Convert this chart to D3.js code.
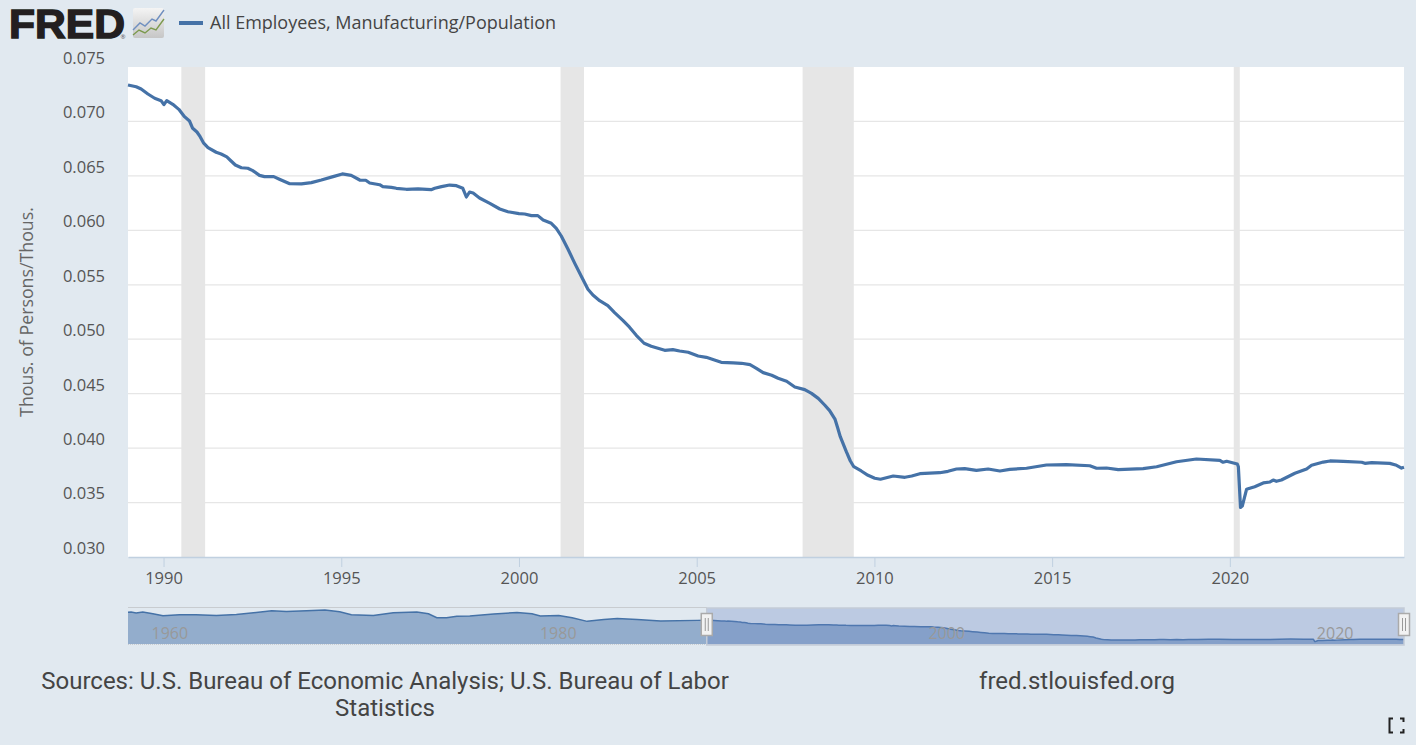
<!DOCTYPE html>
<html>
<head>
<meta charset="utf-8">
<title>All Employees, Manufacturing/Population</title>
<script src="https://cdn.jsdelivr.net/npm/d3@7"></script>
<style>
  html, body { margin: 0; padding: 0; background: #e1e9f0; overflow: hidden; }
  svg { display: block; }
  text { font-family: "Open Sans", sans-serif; }
</style>
</head>
<body>
<svg id="svg" width="1416" height="745"></svg>
<script>
// main series (decimal year / value)
var years = [1989.0,1989.23,1989.37,1989.56,1989.75,1989.93,1990.01,1990.09,1990.26,1990.43,1990.59,1990.73,1990.82,1990.94,1991.03,1991.13,1991.25,1991.48,1991.62,1991.78,1991.9,1992.02,1992.19,1992.37,1992.51,1992.7,1992.84,1993.1,1993.26,1993.55,1993.88,1994.16,1994.44,1994.77,1995.03,1995.28,1995.52,1995.69,1995.8,1996.08,1996.17,1996.41,1996.55,1996.83,1997.16,1997.53,1997.63,1997.82,1998.05,1998.24,1998.42,1998.52,1998.61,1998.71,1998.89,1999.18,1999.46,1999.69,2000.0,2000.16,2000.35,2000.53,2000.68,2000.91,2001.05,2001.19,2001.38,2001.57,2001.75,2001.94,2002.08,2002.27,2002.5,2002.69,2002.93,2003.11,2003.3,2003.52,2003.72,2004.1,2004.33,2004.52,2004.76,2005.04,2005.27,2005.5,2005.69,2006.03,2006.26,2006.5,2006.68,2006.87,2007.11,2007.29,2007.53,2007.76,2008.04,2008.23,2008.42,2008.6,2008.74,2008.89,2008.97,2009.04,2009.21,2009.32,2009.42,2009.63,2009.82,2010.01,2010.17,2010.53,2010.86,2011.05,2011.28,2011.84,2012.07,2012.31,2012.54,2012.87,2013.2,2013.53,2013.81,2014.28,2014.84,2015.4,2016.06,2016.25,2016.53,2016.86,2017.56,2017.94,2018.5,2019.06,2019.72,2019.81,2019.91,2020.21,2020.24,2020.3,2020.35,2020.47,2020.7,2020.94,2021.13,2021.22,2021.31,2021.45,2021.83,2022.16,2022.3,2022.63,2022.82,2023.19,2023.71,2023.8,2023.99,2024.5,2024.69,2024.83,2024.9];
var values = [0.07335,0.07319,0.07298,0.07252,0.07213,0.07191,0.07154,0.07191,0.07157,0.07111,0.07044,0.07004,0.06937,0.06903,0.0686,0.068,0.06759,0.06717,0.06701,0.06674,0.06637,0.066,0.06575,0.0657,0.06548,0.06505,0.06493,0.06493,0.06469,0.06428,0.06426,0.06438,0.06462,0.06493,0.06518,0.06505,0.06462,0.0646,0.06435,0.06419,0.06401,0.06395,0.06386,0.06377,0.0638,0.06373,0.06386,0.06401,0.06416,0.0641,0.06386,0.06306,0.06352,0.06343,0.06297,0.06248,0.06196,0.06171,0.06153,0.0615,0.06135,0.06135,0.06095,0.06065,0.06019,0.05948,0.05826,0.05697,0.05581,0.05459,0.05406,0.05354,0.05308,0.05244,0.0517,0.0511,0.05036,0.04963,0.04935,0.04898,0.04904,0.04892,0.0488,0.04846,0.04834,0.04809,0.04788,0.04782,0.04779,0.04766,0.04733,0.04693,0.04669,0.04641,0.04614,0.04561,0.04537,0.04503,0.04457,0.04396,0.04344,0.04267,0.04182,0.04105,0.03967,0.03884,0.03829,0.0379,0.0375,0.03723,0.03714,0.03744,0.03732,0.03744,0.03765,0.03774,0.03787,0.03808,0.03811,0.03796,0.03808,0.0379,0.03805,0.03815,0.03845,0.03848,0.03838,0.03815,0.03817,0.03802,0.03811,0.03829,0.03875,0.039,0.03888,0.0387,0.03879,0.03854,0.03829,0.03456,0.03468,0.03622,0.03646,0.0368,0.03689,0.03707,0.03695,0.03707,0.03769,0.03808,0.03842,0.03872,0.03882,0.03879,0.0387,0.0386,0.03866,0.0386,0.03842,0.03817,0.03824];

// navigator series before the zoomed range
var navYears = [1959.2,1959.36,1959.62,1959.96,1960.48,1961.0,1961.85,1962.7,1963.75,1964.78,1965.8,1966.6,1967.36,1968.4,1969.34,1970.1,1970.7,1971.83,1972.86,1974.07,1974.67,1975.1,1975.6,1976.13,1976.8,1978.03,1979.23,1980.0,1980.43,1981.38,1982.07,1982.84,1983.7,1984.39,1985.42,1986.62,1988.5];
var navValues = [0.0877,0.0882,0.0864,0.0882,0.0852,0.0816,0.0834,0.0834,0.0822,0.084,0.0876,0.0907,0.0895,0.0907,0.0919,0.0888,0.0834,0.0822,0.087,0.0882,0.0852,0.0779,0.0779,0.0804,0.081,0.0846,0.0876,0.0852,0.081,0.0822,0.0779,0.0713,0.0749,0.0767,0.0749,0.0719,0.0731];

var recessionStart = [1990.5, 2001.17, 2007.98, 2020.11];
var recessionEnd = [1991.17, 2001.83, 2009.42, 2020.28];

var xTicks = [1990, 1995, 2000, 2005, 2010, 2015, 2020];
var yTicks = [0.030, 0.035, 0.040, 0.045, 0.050, 0.055, 0.060, 0.065, 0.070, 0.075];
var navTicks = [1960, 1980, 2000, 2020];

var seriesName = "All Employees, Manufacturing/Population";
var yTitle = "Thous. of Persons/Thous.";

var blue = "#4572a7";
var textColor = "#555";

var svg = d3.select("#svg");

var x = d3.scaleLinear().domain([1989, 2024.9]).range([128, 1404]);
var y = d3.scaleLinear().domain([0.030, 0.075]).range([557, 67]);
var navX = d3.scaleLinear().domain([1959.2, 2024.9]).range([128, 1404]);
var navY = d3.scaleLinear().domain([0.030, 0.0975]).range([644, 607]);

var points = d3.zip(years, values);
var navPoints = d3.zip(navYears.concat(years), navValues.concat(values));

// plot background
svg.append("rect")
  .attr("x", 128).attr("y", 67)
  .attr("width", 1276).attr("height", 490)
  .attr("fill", "#fff");

// y axis with grid
var yAxis = d3.axisLeft(y)
  .tickValues(yTicks)
  .tickFormat(d3.format(".3f"))
  .tickSize(0)
  .tickPadding(23);
var yG = svg.append("g").attr("transform", "translate(128,0)").call(yAxis);
yG.select(".domain").remove();
yG.selectAll("text")
  .attr("dy", "-0.22em")
  .attr("fill", textColor)
  .style("font-size", "16.5px");

svg.append("g").selectAll("line").data(yTicks.slice(1, -1)).enter()
  .append("line")
  .attr("x1", 128).attr("x2", 1404)
  .attr("y1", function(d) { return y(d); })
  .attr("y2", function(d) { return y(d); })
  .attr("stroke", "#e6e6e6")
  .attr("stroke-width", 1.2);

// recessions
svg.append("g").selectAll("rect").data(d3.zip(recessionStart, recessionEnd)).enter()
  .append("rect")
  .attr("x", function(d) { return x(d[0]); })
  .attr("y", 67)
  .attr("width", function(d) { return x(d[1]) - x(d[0]); })
  .attr("height", 490)
  .attr("fill", "#e6e6e6");

// x axis
var xAxis = d3.axisBottom(x)
  .tickValues(xTicks)
  .tickFormat(d3.format("d"))
  .tickSize(10)
  .tickSizeOuter(0)
  .tickPadding(5);
var xG = svg.append("g").attr("transform", "translate(0,557)").call(xAxis);
xG.select(".domain").attr("stroke", "#c0d0e0").attr("stroke-width", 1.5);
xG.selectAll("line").attr("stroke", "#c0d0e0");
xG.selectAll("text").attr("fill", textColor).style("font-size", "16.5px");

// y axis title
svg.append("text")
  .attr("transform", "translate(33,312) rotate(-90)")
  .attr("text-anchor", "middle")
  .attr("fill", "#666")
  .style("font-size", "17.8px")
  .text(yTitle);

// the line
var line = d3.line()
  .x(function(d) { return x(d[0]); })
  .y(function(d) { return y(d[1]); });
svg.append("path")
  .datum(points)
  .attr("d", line)
  .attr("fill", "none")
  .attr("stroke", blue)
  .attr("stroke-width", 3.2)
  .attr("stroke-linejoin", "round");

// navigator
var nav = svg.append("g");
var navArea = d3.area()
  .x(function(d) { return navX(d[0]); })
  .y0(644)
  .y1(function(d) { return navY(d[1]); });
var navLine = d3.line()
  .x(function(d) { return navX(d[0]); })
  .y(function(d) { return navY(d[1]); });
nav.append("path").datum(navPoints).attr("d", navArea).attr("fill", blue).attr("fill-opacity", 0.5);
nav.append("path").datum(navPoints).attr("d", navLine).attr("fill", "none").attr("stroke", blue).attr("stroke-width", 1.5);

// selected range and outline
nav.append("rect")
  .attr("x", navX(1989)).attr("y", 608)
  .attr("width", 1404 - navX(1989)).attr("height", 37)
  .attr("fill", "rgb(102,133,194)").attr("fill-opacity", 0.3)
  .attr("stroke", "#c4cbd6").attr("stroke-width", 1.5);
nav.append("line")
  .attr("x1", 128).attr("x2", navX(1989))
  .attr("y1", 607.5).attr("y2", 607.5)
  .attr("stroke", "#c8ccd0");
nav.append("line")
  .attr("x1", 128).attr("x2", navX(1989))
  .attr("y1", 644.5).attr("y2", 644.5)
  .attr("stroke", "#c8ccd0").attr("stroke-dasharray", "1,1");

nav.append("g").selectAll("text").data(navTicks).enter()
  .append("text")
  .attr("x", function(d) { return navX(d) + 8; })
  .attr("y", 639)
  .attr("fill", "#999")
  .style("font-size", "16px")
  .text(function(d) { return d; });

// handles
var handles = nav.append("g").selectAll("g").data([1989, 2024.9]).enter()
  .append("g")
  .attr("transform", function(d) { return "translate(" + navX(d) + ",0)"; });
handles.append("rect")
  .attr("x", -5.5).attr("y", 613.5)
  .attr("width", 11).attr("height", 22)
  .attr("fill", "#f2f2f2").attr("stroke", "#aaa").attr("stroke-width", 1.5);
handles.selectAll("line").data([-1.5, 1.5]).enter()
  .append("line")
  .attr("x1", function(d) { return d; }).attr("x2", function(d) { return d; })
  .attr("y1", 618).attr("y2", 631)
  .attr("stroke", "#999");

// legend
svg.append("line")
  .attr("x1", 179).attr("x2", 203)
  .attr("y1", 23).attr("y2", 23)
  .attr("stroke", blue).attr("stroke-width", 4);
svg.append("text")
  .attr("x", 210).attr("y", 29)
  .attr("fill", "#444")
  .style("font-size", "18px")
  .text(seriesName);

// logo
svg.append("text")
  .attr("x", 9).attr("y", 38)
  .attr("textLength", 116)
  .attr("lengthAdjust", "spacingAndGlyphs")
  .attr("fill", "#231f20")
  .attr("stroke", "#231f20")
  .attr("stroke-width", 1.4)
  .style("font-family", "'Liberation Sans', sans-serif")
  .style("font-weight", "bold")
  .style("font-size", "40px")
  .text("FRED");
svg.append("text")
  .attr("x", 120.5).attr("y", 39)
  .attr("fill", "#555")
  .style("font-size", "6px")
  .text("®");

var icon = svg.append("g").attr("transform", "translate(133,8)");
var iconGrad = svg.append("defs").append("linearGradient")
  .attr("id", "iconGrad").attr("x1", 0).attr("y1", 0).attr("x2", 0).attr("y2", 1);
iconGrad.append("stop").attr("offset", "0").attr("stop-color", "#f4f4f4");
iconGrad.append("stop").attr("offset", "1").attr("stop-color", "#c6c6c6");
icon.append("rect")
  .attr("width", 31).attr("height", 30).attr("rx", 2)
  .attr("fill", "url(#iconGrad)");
icon.append("path")
  .attr("d", "M0,22 L7,15 L12,18 L19,11 L23,13 L31,2")
  .attr("fill", "none").attr("stroke", "#6f8fc0").attr("stroke-width", 1.4);
icon.append("path")
  .attr("d", "M0,27 L6,22 L12,25 L18,20 L23,22 L31,11")
  .attr("fill", "none").attr("stroke", "#7c9a4e").attr("stroke-width", 1.4);

// footer
var footer = svg.append("g")
  .attr("fill", "#444")
  .style("font-size", "24px");
footer.append("text")
  .attr("x", 385).attr("y", 689)
  .attr("text-anchor", "middle")
  .style("font-family", "Roboto, sans-serif")
  .text("Sources: U.S. Bureau of Economic Analysis; U.S. Bureau of Labor");
footer.append("text")
  .attr("x", 385).attr("y", 716)
  .attr("text-anchor", "middle")
  .style("font-family", "Roboto, sans-serif")
  .text("Statistics");
footer.append("text")
  .attr("x", 1077).attr("y", 689)
  .attr("text-anchor", "middle")
  .style("font-family", "Roboto, sans-serif")
  .text("fred.stlouisfed.org");

// fullscreen icon
svg.append("path")
  .attr("d", "M1393,718.5 H1389.5 V732.5 H1393 M1400,718.5 H1403.5 V722 M1403.5,729 V732.5 H1400")
  .attr("fill", "none")
  .attr("stroke", "#222")
  .attr("stroke-width", 2);
</script>
</body>
</html>
